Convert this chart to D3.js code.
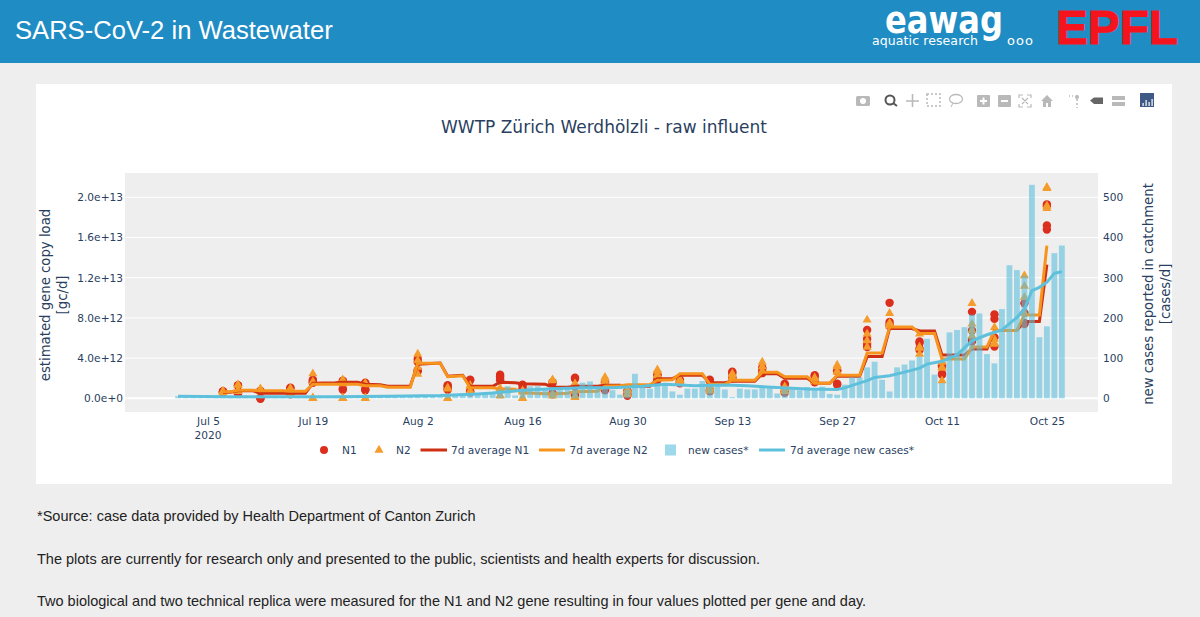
<!DOCTYPE html>
<html><head><meta charset="utf-8">
<script src="https://cdn.jsdelivr.net/npm/d3@7/dist/d3.min.js"></script>
<style>
html,body{margin:0;padding:0;width:1200px;height:617px;overflow:hidden;background:#eee}
svg{display:block}
</style></head><body><svg id="c" width="1200" height="617"></svg>
<script>
// ---------- data (gene load in units of 1e12 gc/d, cases per day) ----------
const sampleDates=["07-07","07-09","07-12","07-16","07-19","07-23","07-26","08-02","08-06","08-09","08-13","08-16","08-20","08-23","08-27","08-30","09-03","09-06","09-10","09-13","09-17","09-20","09-24","09-27","10-01","10-04","10-08","10-11","10-15","10-18","10-22","10-25"];
const n1Samples=[[.6,.65,.6,.7],[1.3,1.25,.5,.45],[0,-.05,.75,.7],[1,1.05,.4,.45],[1.85,1.75,1.6,1.55],[1.75,1.7,.95,.85],[1.55,1.45,.9,.8],[3.9,3.6,2.8,2.7],[1.3,1.2,.95,.85],[1.85,1.8,.7,.6],[2.35,2.2,1.95,1.8],[1.35,1.25,.95,.8],[1.6,1.5,.5,.4],[2.05,1.95,1.15,.3],[1.6,1.25,.9,.8],[.75,.65,.35,.25],[2.4,2.3,1.9,1.8],[1.85,1.75,1.6,1.5],[1.85,1.7,.85,.7],[2.65,2.5,2.1,2],[3.05,2.95,2.65,2.5],[1.45,1.35,.7,.55],[2.3,2.15,1.75,1.6],[2.8,2.7,1.45,1.35],[6.8,5.9,5.4,5.1],[9.5,7.6,7.35,7.2],[5.65,5.5,4.95,4.8],[3.3,3.15,2.45,2.35],[8.6,6.75,5.8,5.65],[8.35,7.9,6.05,5.15],[9.45,8.5,7.5,7.4],[19.3,19.1,17.2,16.8]];
const n2Samples=[[.7,.7,.65,.6],[1.35,1.3,.8,.7],[.95,.85,.8,.75],[1,.95,.55,.45],[2.45,1.65,.05,0],[1.85,1.45,.05,0],[1.5,1.4,.05,0],[4.4,3.75,3.1,2.4],[1.05,.95,.05,0],[1.3,1.2,.75,.65],[1,.9,.3,.25],[.75,.65,.05,0],[1.85,1.75,.35,.25],[1.45,1.35,.2,.1],[2.1,1.95,1.7,1.55],[.9,.8,.5,.4],[2.85,2.7,2.35,2.25],[1.9,1.8,1.65,1.55],[1.1,1,.85,.75],[2.45,2.35,2.1,2],[3.6,3.15,2.7,2.6],[1.15,1,.8,.7],[2.05,1.95,1.75,1.65],[3.3,3.15,2.7,2.6],[7.8,6.4,5.75,5.1],[8.45,7.5,7.35,7.2],[6.4,5.1,5,4.4],[3.6,3.1,3,1.75],[9.45,7.4,6.75,6.2],[7.05,5.9,5.5,5.4],[12.2,11.15,10.05,8.45],[21,20.9,19.15,18.9]];
const avgDates=["07-07","07-08","07-09","07-11","07-12","07-15","07-16","07-18","07-19","07-22","07-23","07-25","07-26","07-28","07-29","08-01","08-02","08-05","08-06","08-08","08-09","08-12","08-13","08-15","08-16","08-19","08-20","08-22","08-23","08-26","08-27","08-29","08-30","09-02","09-03","09-05","09-06","09-09","09-10","09-12","09-13","09-16","09-17","09-19","09-20","09-23","09-24","09-26","09-27","09-30","10-01","10-03","10-04","10-07","10-08","10-10","10-11","10-14","10-15","10-17","10-18","10-21","10-22","10-24","10-25"];
const avgN1=[.6,.6,.75,.75,.5,.5,.5,.5,1.5,1.55,1.6,1.6,1.4,1.35,1.2,1.2,3.4,3.5,2.2,2.3,1.2,1.2,1.6,1.55,1.45,1.4,1.1,1.1,1.2,1.2,1.3,1.3,1.2,1.2,1.95,1.95,2.3,2.3,1.55,1.55,1.7,1.7,2.45,2.45,2,2,1.5,1.5,2.2,2.2,4.15,4.15,6.95,6.95,6.7,6.7,4.3,4.3,4.9,4.9,6.75,6.75,7.65,7.65,13.3];
const avgN2=[.65,.65,.8,.8,.75,.75,.7,.7,1.4,1.4,1.4,1.4,1.25,1.25,1.1,1.1,3.5,3.5,2.15,2.25,1.05,1.05,.95,.9,.55,.45,.45,.5,.65,.7,1.2,1.25,1.35,1.35,1.8,1.85,2.45,2.45,1.4,1.4,1.8,1.8,2.6,2.6,2.15,2.15,1.5,1.5,2.3,2.3,4.5,4.5,7.1,7.1,6.45,6.45,3.9,3.9,5.1,5.1,6.75,6.75,8.3,8.3,15.2];
const firstCaseDate="07-01";
const newCases=[5,4,6,3,2,5,6,4,3,7,5,2,3,4,6,5,3,4,5,2,3,6,4,5,3,2,4,6,5,4,3,5,6,4,5,3,7,10,12,13,12,13,16,22,30,7,22,30,30,25,28,25,24,28,39,42,30,28,20,9,22,61,28,24,36,36,17,9,24,24,43,32,32,22,3,24,22,22,31,26,12,24,26,20,28,24,29,11,9,34,52,52,77,91,46,17,77,84,94,104,148,59,38,164,170,177,208,211,110,87,222,331,319,305,531,152,179,361,380];
const avgCaseDates=["07-01","07-08","07-15","07-22","07-29","08-05","08-10","08-12","08-16","08-20","08-24","08-28","09-01","09-04","09-08","09-12","09-15","09-19","09-23","09-27","09-28","09-29","10-01","10-02","10-04","10-06","10-08","10-09","10-11","10-13","10-15","10-17","10-19","10-21","10-22","10-23","10-24","10-25","10-26","10-27"];
const avgCases=[5,4,4,4,5,7,11,13,20,24,26,26,30,35,31,33,31,27,23,22,26,32,44,52,56,65,75,85,92,108,143,158,170,201,222,268,276,289,311,315];
const leftTicks=[0,4,8,12,16,20];
const leftLabels=["0.0e+0","4.0e+12","8.0e+12","1.2e+13","1.6e+13","2.0e+13"];
const rightTicks=[0,100,200,300,400,500];
const xTickDates=["07-05","07-19","08-02","08-16","08-30","09-13","09-27","10-11","10-25"];
const xTickLabels=["Jul 5","Jul 19","Aug 2","Aug 16","Aug 30","Sep 13","Sep 27","Oct 11","Oct 25"];
const legendLabels=["N1","N2","7d average N1","7d average N2","new cases*","7d average new cases*"];
const notes=["*Source: case data provided by Health Department of Canton Zurich","The plots are currently for research only and presented to the public, scientists and health experts for discussion.","Two biological and two technical replica were measured for the N1 and N2 gene resulting in four values plotted per gene and day."];

// ---------- helpers ----------
const day=s=>{const [m,d]=s.split("-").map(Number);return new Date(Date.UTC(2020,m-1,d));};
const addDays=(s,n)=>d3.utcDay.offset(day(s),n);
const C={n1:"#dc2e1c",n2:"#f59d2c",a1:"#cf2f12",a2:"#f7941e",bar:"#5bc0de",line:"#5fc0dc",ink:"#2a3f5f"};
const P={l:125,r:1098,t:173,b:412};
const pxPerDay=7.49, x0=208;
const x=d3.scaleUtc().domain([day("07-05"),day("10-25")]).range([x0,x0+112*pxPerDay]);
const yL=d3.scaleLinear().domain([0,20]).range([398.3,197.3]);
const yR=d3.scaleLinear().domain([0,500]).range([398.3,197.3]);
const svg=d3.select("#c");
const F="'DejaVu Sans',Verdana,sans-serif", H="'Liberation Sans',Arial,sans-serif";
const TS=10.6;

// ---------- page furniture ----------
svg.append("rect").attr("width",1200).attr("height",63).attr("fill","#1f8cc4");
svg.append("text").attr("x",15).attr("y",39).attr("font-family",H).attr("font-size",25.6).attr("fill","#fff").text("SARS-CoV-2 in Wastewater");
svg.append("text").attr("x",885).attr("y",33).attr("font-family",F).attr("font-weight",700).attr("font-size",37).attr("fill","#fff").attr("textLength",118).attr("lengthAdjust","spacingAndGlyphs").text("eawag");
svg.append("text").attr("x",872).attr("y",45).attr("font-family",F).attr("font-size",12.5).attr("fill","#fff").attr("textLength",106).text("aquatic research");
svg.append("text").attr("x",1007).attr("y",45).attr("font-family",F).attr("font-size",13).attr("fill","#fff").attr("textLength",26).text("ooo");
svg.append("text").attr("x",1056).attr("y",43.5).attr("font-family",H).attr("font-weight",700).attr("font-size",48).attr("fill","#f5141e").attr("stroke","#f5141e").attr("stroke-width",1).attr("textLength",122).attr("lengthAdjust","spacingAndGlyphs").text("EPFL");
svg.append("rect").attr("x",36).attr("y",84).attr("width",1136).attr("height",400).attr("fill","#fff");

// modebar
const mb=svg.append("g").attr("fill","#b9b9b9");
mb.append("rect").attr("x",856).attr("y",96).attr("width",14).attr("height",10).attr("rx",1.5);
mb.append("circle").attr("cx",863).attr("cy",101).attr("r",3).attr("fill","#fff");
mb.append("circle").attr("cx",890).attr("cy",100).attr("r",4.5).attr("fill","none").attr("stroke","#555").attr("stroke-width",2);
mb.append("line").attr("x1",893).attr("y1",103).attr("x2",897).attr("y2",106).attr("stroke","#555").attr("stroke-width",2);
mb.append("path").attr("d","M906 101H919M912.5 94V107").attr("stroke","#b9b9b9").attr("stroke-width",1.6);
mb.append("rect").attr("x",927).attr("y",94).attr("width",13).attr("height",12).attr("fill","none").attr("stroke","#b9b9b9").attr("stroke-dasharray","2 2").attr("stroke-width",1.5);
mb.append("ellipse").attr("cx",956).attr("cy",99).attr("rx",6.5).attr("ry",4.5).attr("fill","none").attr("stroke","#b9b9b9").attr("stroke-width",1.3);
mb.append("path").attr("d","M953 103L951 107").attr("stroke","#b9b9b9");
[[977,"M980 101H987M983.5 97.5V104.5"],[998,"M1001 101H1008"]].forEach(([a,d])=>{mb.append("rect").attr("x",a).attr("y",95).attr("width",13).attr("height",12).attr("rx",1);mb.append("path").attr("d",d).attr("stroke","#fff").attr("stroke-width",2);});
mb.append("path").attr("d","M1019 98V95H1023M1027 95H1031V98M1031 104V107H1027M1023 107H1019V104M1022 98L1028 104M1028 98L1022 104").attr("fill","none").attr("stroke","#b9b9b9").attr("stroke-width",1.2);
mb.append("path").attr("d","M1041 101L1047 95L1053 101H1051V107H1048V103H1046V107H1043V101Z");
mb.append("path").attr("d","M1069 96H1070M1072 96H1073M1077 95V108").attr("stroke","#b9b9b9").attr("stroke-width",1.5).attr("stroke-dasharray","2 2");
mb.append("circle").attr("cx",1077).attr("cy",97).attr("r",2);
mb.append("path").attr("d","M1090 100.5L1094 97.5H1103V104H1094Z").attr("fill","#666");
mb.append("path").attr("d","M1112 96H1125V100H1112ZM1112 102H1125V106H1112Z");
mb.append("rect").attr("x",1140).attr("y",93).attr("width",14).attr("height",14).attr("fill","#3f5a85");
[[1143,103],[1146,100],[1149,102],[1152,99]].forEach(([a,b])=>mb.append("rect").attr("x",a-.5).attr("y",b).attr("width",1.2).attr("height",106-b).attr("fill","#fff"));

// ---------- chart ----------
svg.append("text").attr("x",604).attr("y",132.5).attr("text-anchor","middle").attr("font-family",F).attr("font-size",17).attr("fill",C.ink).text("WWTP Zürich Werdhölzli - raw influent");
svg.append("rect").attr("x",P.l).attr("y",P.t).attr("width",P.r-P.l).attr("height",P.b-P.t).attr("fill","#eee");
svg.selectAll(".g").data(leftTicks).join("line").attr("x1",P.l).attr("x2",P.r).attr("y1",d=>yL(d)).attr("y2",d=>yL(d)).attr("stroke","#fff").attr("stroke-width",d=>d===0?2:1);

svg.append("defs").append("clipPath").attr("id","pc").append("rect").attr("x",P.l).attr("y",P.t).attr("width",P.r-P.l).attr("height",P.b-P.t);
const g=svg.append("g").attr("clip-path","url(#pc)");
const tri=d3.symbol().type(d3.symbolTriangle).size(36)();

sampleDates.forEach((d,i)=>{
  g.selectAll(null).data(n1Samples[i]).join("circle").attr("cx",x(day(d))).attr("cy",v=>yL(v)).attr("r",4.2).attr("fill",C.n1);
});
sampleDates.forEach((d,i)=>{
  g.selectAll(null).data(n2Samples[i]).join("path").attr("d",tri).attr("transform",v=>`translate(${x(day(d))},${yL(v)})`).attr("fill",C.n2);
});
const ln=(ys,sc)=>d3.line().x(d=>x(d)).y((d,i)=>sc(ys[i]));
g.append("path").attr("d",ln(avgN1,yL)(avgDates.map(day))).attr("fill","none").attr("stroke",C.a1).attr("stroke-width",3);
g.append("path").attr("d",ln(avgN2,yL)(avgDates.map(day))).attr("fill","none").attr("stroke",C.a2).attr("stroke-width",3);
const bw=pxPerDay*0.78;
g.selectAll(".b").data(newCases).join("rect").attr("x",(d,i)=>x(addDays(firstCaseDate,i))-bw/2).attr("width",bw).attr("y",d=>yR(d)).attr("height",d=>yR(0)-yR(d)).attr("fill",C.bar).attr("fill-opacity",.6);
g.append("path").attr("d",ln(avgCases,yR)(avgCaseDates.map(day))).attr("fill","none").attr("stroke",C.line).attr("stroke-width",3);

// axes
const axL=svg.append("g").attr("transform",`translate(${P.l-2},0)`).call(d3.axisLeft(yL).tickValues(leftTicks).tickFormat((d,i)=>leftLabels[i]).tickSize(0).tickPadding(0));
const axR=svg.append("g").attr("transform",`translate(${P.r+5},0)`).call(d3.axisRight(yR).tickValues(rightTicks).tickSize(0).tickPadding(0));
const axX=svg.append("g").attr("transform",`translate(0,414)`).call(d3.axisBottom(x).tickValues(xTickDates.map(day)).tickFormat((d,i)=>xTickLabels[i]).tickSize(0).tickPadding(3));
[axL,axR,axX].forEach(a=>{a.select(".domain").remove();a.selectAll("text").attr("font-family",F).attr("font-size",TS).attr("fill",C.ink);});
svg.append("text").attr("x",x(day("07-05"))).attr("y",439).attr("text-anchor","middle").attr("font-family",F).attr("font-size",TS).attr("fill",C.ink).text("2020");
const rot=(cx,cy,lines)=>{const t=svg.append("text").attr("transform",`translate(${cx},${cy}) rotate(-90)`).attr("text-anchor","middle").attr("font-family",F).attr("font-size",13.25).attr("fill",C.ink);
 lines.forEach((l,i)=>t.append("tspan").attr("x",0).attr("dy",i?17:0).text(l));};
rot(50,295,["estimated gene copy load","[gc/d]"]);
rot(1153,294,["new cases reported in catchment","[cases/d]"]);

// legend
const LY=450;
const lx=[342,396,451,569.5,688,790];
svg.selectAll(".lt").data(legendLabels).join("text").attr("x",(d,i)=>lx[i]).attr("y",LY+4).attr("font-family",F).attr("font-size",TS).attr("fill",C.ink).text(d=>d);
svg.append("circle").attr("cx",324).attr("cy",LY).attr("r",4).attr("fill",C.n1);
svg.append("path").attr("d",tri).attr("transform",`translate(379,${LY})`).attr("fill",C.n2);
[[420.5,447,C.a1],[539,565,C.a2],[759,785,C.line]].forEach(([a,b,c])=>svg.append("line").attr("x1",a).attr("x2",b).attr("y1",LY).attr("y2",LY).attr("stroke",c).attr("stroke-width",3));
svg.append("rect").attr("x",665).attr("y",LY-5.5).attr("width",11).attr("height",11).attr("fill",C.bar).attr("fill-opacity",.6);

// notes
svg.selectAll(".n").data(notes).join("text").attr("x",37).attr("y",(d,i)=>521+i*42.5).attr("font-family",H).attr("font-size",14.5).attr("fill","#222").text(d=>d);
</script></body></html>
